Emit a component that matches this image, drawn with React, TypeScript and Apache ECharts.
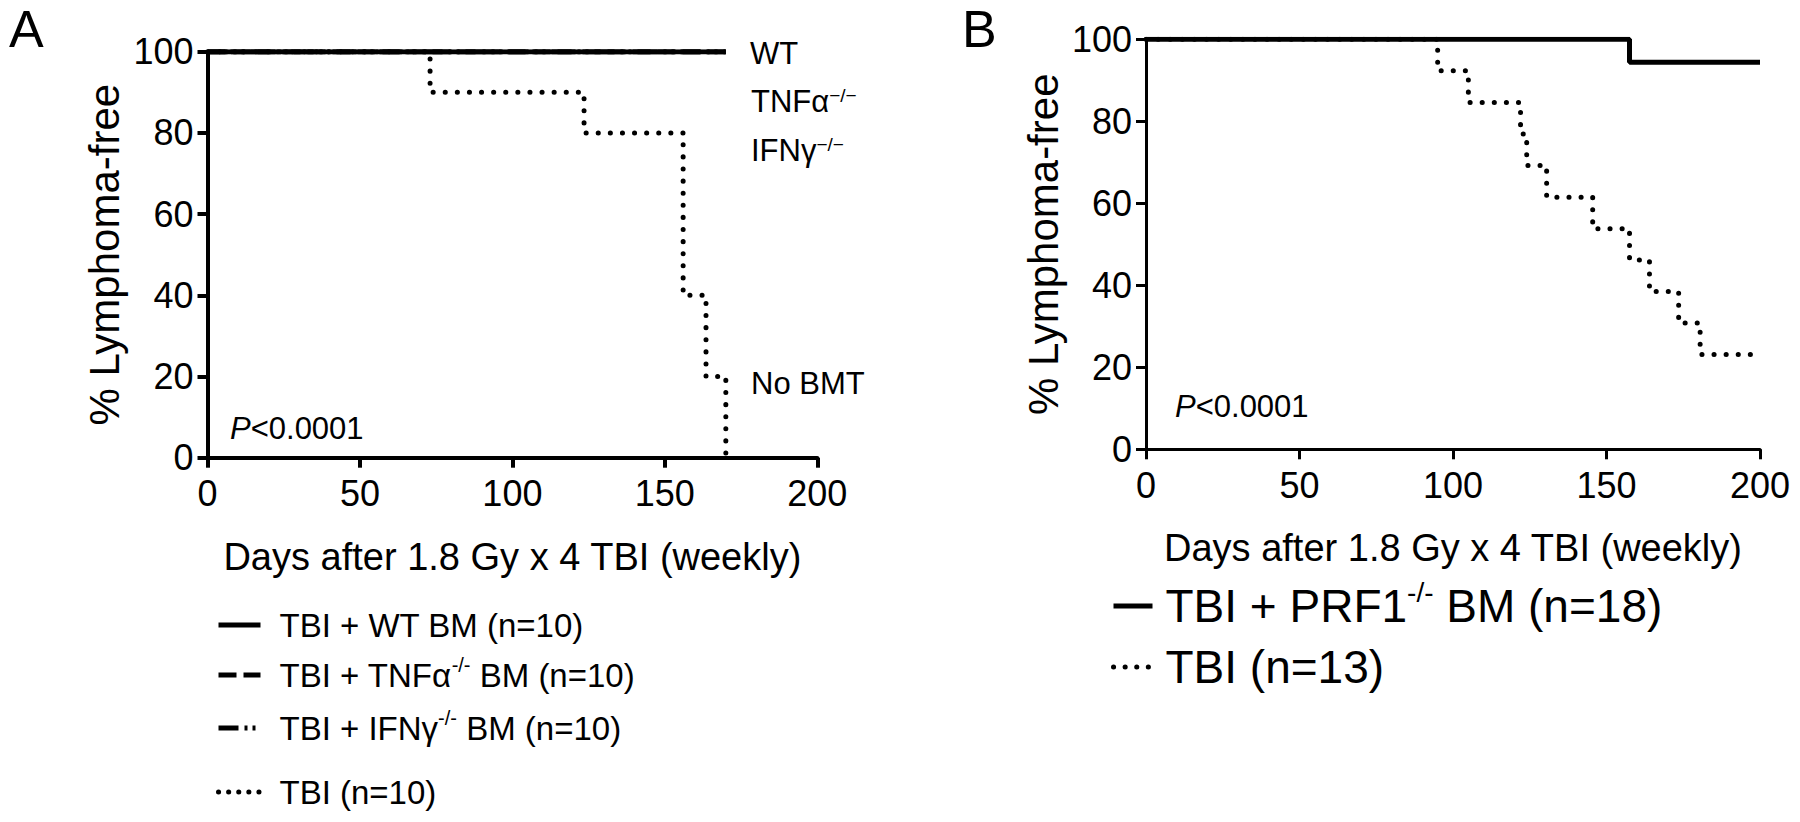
import { useEffect, useRef } from 'react';
import * as echarts from 'echarts';

const FONT = 'Liberation Sans, Arial, Helvetica, sans-serif';

// ---- Panel A data (Kaplan-Meier, days / % lymphoma-free) ----
const aNames = ['TBI + WT BM (n=10)', 'TBI + TNFα-/- BM (n=10)', 'TBI + IFNγ-/- BM (n=10)', 'TBI (n=10)'];
const aWtDays = [0, 170];
const aWtSurv = [100, 100];
const aTnfDays = [0, 170];
const aTnfSurv = [100, 100];
const aIfnDays = [0, 170];
const aIfnSurv = [100, 100];
const aTbiDays = [0, 73, 123.5, 156, 163.5, 170];
const aTbiSurv = [100, 90, 80, 40, 20, 0];

// ---- Panel B data ----
const bNames = ['TBI + PRF1-/- BM (n=18)', 'TBI (n=13)'];
const bPrfDays = [0, 157.5, 200];
const bPrfSurv = [100, 94.4, 94.4];
const bTbiDays = [0, 95, 105, 122, 124, 130.5, 145.5, 157.5, 164, 173.5, 180.5, 199];
const bTbiSurv = [100, 92.3, 84.6, 76.9, 69.2, 61.5, 53.8, 46.2, 38.5, 30.8, 23.1, 23.1];

const xTitle = 'Days after 1.8 Gy x 4 TBI (weekly)';
const yTitle = '% Lymphoma-free';
const pText = '{i|P}<0.0001';

const toPts = (d: number[], s: number[]) => d.map((x, i) => [x, s[i]]);

const SOLID = 'solid';
const DASH = [18, 7];
const DASHDOT = [20, 6, 3, 5, 3, 6];
const DOT = [0.1, 12];

function mkX(gi: number, w: number) {
  return {
    type: 'value', gridIndex: gi, min: 0, max: 200, interval: 50,
    axisLine: { show: true, onZero: false, lineStyle: { color: '#000', width: w } },
    axisTick: { show: true, length: 10, lineStyle: { color: '#000', width: w } },
    axisLabel: { color: '#000', fontSize: 36, fontFamily: FONT, margin: 18 },
    splitLine: { show: false },
    name: xTitle, nameLocation: 'middle', nameGap: 80,
    nameTextStyle: { fontSize: 38, color: '#000', fontFamily: FONT },
  };
}
function mkY(gi: number, w: number) {
  return {
    type: 'value', gridIndex: gi, min: 0, max: 100, interval: 20,
    axisLine: { show: true, onZero: false, lineStyle: { color: '#000', width: w } },
    axisTick: { show: true, length: 10, lineStyle: { color: '#000', width: w } },
    axisLabel: { color: '#000', fontSize: 36, fontFamily: FONT, margin: 14 },
    splitLine: { show: false },
    name: yTitle, nameLocation: 'middle', nameGap: 82, nameRotate: 90,
    nameTextStyle: { fontSize: 42, color: '#000', fontFamily: FONT },
  };
}

function mkSeries(name: string, gi: number, d: number[], s: number[], type: any, z: number) {
  return {
    name, type: 'line', xAxisIndex: gi, yAxisIndex: gi, data: toPts(d, s), step: 'end',
    symbol: 'none', showSymbol: false, z,
    lineStyle: { color: '#000', width: 5, type, cap: type === DOT ? 'round' : 'butt' },
  };
}

function mkLegend(name: string, left: number, cy: number, type: any, cap: string,
  fontSize: number, itemWidth: number, gap: number) {
  const lh = Math.round(fontSize * 1.2);
  return {
    data: [name], left, top: cy - lh / 2, orient: 'horizontal', padding: 0,
    itemWidth, itemHeight: 14, selectedMode: false,
    itemStyle: { color: 'rgba(0,0,0,0)', borderWidth: 0 },
    lineStyle: { color: '#000', width: 5, type, cap },
    textStyle: {
      fontSize, fontFamily: FONT, color: '#000', lineHeight: lh, padding: [0, 0, 0, gap],
      rich: {
        sup: {
          fontSize: Math.round(fontSize * 0.6), lineHeight: Math.round(fontSize * 0.6),
          verticalAlign: 'top', fontFamily: FONT, color: '#000',
        },
      },
    },
    formatter: (n: string) => n.replace('-/-', '{sup|-/-}'),
  };
}

function txt(text: string, x: number, y: number, size: number, rich?: any) {
  return {
    type: 'text', x, y, z: 10,
    style: {
      text, fontSize: size, fontFamily: FONT, fill: '#000', align: 'left', verticalAlign: 'middle',
      rich: rich || {},
    },
  };
}

const supRich = { sup: { fontSize: 19, lineHeight: 19, verticalAlign: 'top', fontFamily: FONT, fill: '#000', color: '#000' } };
const pRich = { i: { fontStyle: 'italic', fontSize: 31, fontFamily: FONT, color: '#000' } };

export default function App() {
  const ref = useRef<HTMLDivElement>(null);
  useEffect(() => {
    if (!ref.current) return;
    const chart = echarts.init(ref.current, undefined, { renderer: 'svg' });
    const option: any = {
      animation: false,
      backgroundColor: '#fff',
      textStyle: { fontFamily: FONT, color: '#000' },
      grid: [
        { left: 207.5, top: 51.7, width: 609.8, height: 406, outerBoundsMode: 'none', containLabel: false },
        { left: 1146, top: 39.3, width: 614, height: 410, outerBoundsMode: 'none', containLabel: false },
      ],
      xAxis: [mkX(0, 4), mkX(1, 3)],
      yAxis: [mkY(0, 4), mkY(1, 3)],
      legend: [
        mkLegend(aNames[0], 216, 625, SOLID, 'butt', 33, 42, 14),
        mkLegend(aNames[1], 216, 675, DASH, 'butt', 33, 42, 14),
        mkLegend(aNames[2], 216, 728, DASHDOT, 'butt', 33, 42, 14),
        mkLegend(aNames[3], 216, 792, [0.1, 10], 'round', 33, 42, 14),
        mkLegend(bNames[0], 1111, 606, SOLID, 'butt', 46, 39, 8),
        mkLegend(bNames[1], 1111, 667, [0.1, 11.5], 'round', 46, 39, 8),
      ],
      series: [
        mkSeries(aNames[1], 0, aTnfDays, aTnfSurv, DASH, 2),
        mkSeries(aNames[2], 0, aIfnDays, aIfnSurv, DASHDOT, 2),
        mkSeries(aNames[3], 0, aTbiDays, aTbiSurv, DOT, 3),
        mkSeries(aNames[0], 0, aWtDays, aWtSurv, SOLID, 4),
        mkSeries(bNames[1], 1, bTbiDays, bTbiSurv, DOT, 3),
        mkSeries(bNames[0], 1, bPrfDays, bPrfSurv, SOLID, 4),
      ],
      graphic: [
        txt('A', 9, 29, 52),
        txt('B', 962, 29, 52),
        txt('WT', 750, 53, 31),
        txt('TNFα{sup|−/−}', 751, 101, 31, supRich),
        txt('IFNγ{sup|−/−}', 751, 150, 31, supRich),
        txt('No BMT', 751, 383, 31),
        txt(pText, 230, 428, 31, pRich),
        txt(pText, 1175, 406, 31, pRich),
      ],
    };
    chart.setOption(option);
    return () => chart.dispose();
  }, []);
  return <div ref={ref} style={{ position: 'fixed', left: 0, top: 0, width: 1800, height: 822, background: '#fff' }} />;
}
